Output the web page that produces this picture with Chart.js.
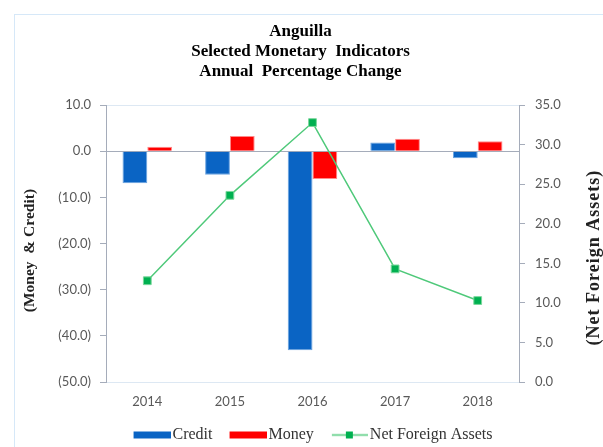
<!DOCTYPE html>
<html>
<head>
<meta charset="utf-8">
<title>Anguilla - Selected Monetary Indicators</title>
<script src="https://cdn.jsdelivr.net/npm/chart.js@4.4.1/dist/chart.umd.min.js"></script>
<style>
  body { margin: 0; background: #fff; }
  #wrap { position: relative; width: 603px; height: 447px; overflow: hidden; }
  #frame {
    position: absolute; left: 14px; top: 14px; right: -10px; bottom: -10px;
    border-top: 1px solid #d6e8f8; border-left: 1px solid #d6e8f8;
  }
  canvas { position: absolute; left: 0; top: 0; }
</style>
</head>
<body>
<div id="wrap">
  <div id="frame"></div>
  <canvas id="monetaryChart" width="603" height="447"></canvas>
</div>
<script>
const years = ["2014", "2015", "2016", "2017", "2018"];
const credit = [-6.9, -5.1, -43.1, 1.9, -1.5];
const money = [1.0, 3.3, -6.0, 2.7, 2.2];
const netForeignAssets = [12.8, 23.6, 32.8, 14.3, 10.3];
const leftTicks = [10, 0, -10, -20, -30, -40, -50];
const rightTicks = [35, 30, 25, 20, 15, 10, 5, 0];

const titleLines = ["Anguilla", "Selected Monetary  Indicators", "Annual  Percentage Change"];
const leftTitle = "(Money  & Credit)";
const rightTitle = "(Net Foreign Assets)";

const BLUE = "#0a64c4";
const RED = "#ff0000";
const GREEN = "#00b050";
const GREEN_LINE = "#4fc97a";
const AXIS = "#a5acba";
const FAINT = "#dde8f3";

// legend swatches: transparent on the left, the visible key in the last 37px
const swatch = (draw) => {
  const c = document.createElement("canvas");
  c.width = 44;
  c.height = 9;
  draw(c.getContext("2d"));
  return c;
};
const swatches = [
  swatch((g) => { g.fillStyle = BLUE; g.fillRect(7, 1, 37, 7); }),
  swatch((g) => { g.fillStyle = RED; g.fillRect(7, 1, 37, 7); }),
  swatch((g) => {
    g.strokeStyle = GREEN_LINE;
    g.lineWidth = 1.5;
    g.beginPath();
    g.moveTo(8, 4.5);
    g.lineTo(44, 4.5);
    g.stroke();
    g.fillStyle = GREEN;
    g.fillRect(22, 1, 7, 7);
  }),
];

// rotated axis titles, both reading bottom to top
const axisTitles = {
  id: "axisTitles",
  afterDraw(chart) {
    const { ctx, chartArea } = chart;
    const mid = (chartArea.top + chartArea.bottom) / 2;
    ctx.save();
    ctx.fillStyle = "#222";
    ctx.textAlign = "center";
    ctx.textBaseline = "middle";
    ctx.font = "bold 15.5px 'Liberation Serif'";
    ctx.translate(chart.scales.y.left + 16, mid + 7);
    ctx.rotate(-Math.PI / 2);
    ctx.fillText(leftTitle, 0, 0);
    ctx.restore();

    ctx.save();
    ctx.fillStyle = "#222";
    ctx.textAlign = "center";
    ctx.textBaseline = "middle";
    ctx.font = "bold 18px 'Liberation Serif'";
    ctx.letterSpacing = "1px";
    ctx.translate(chart.width - 9, mid + 14);
    ctx.rotate(-Math.PI / 2);
    ctx.fillText(rightTitle, 0, 0);
    ctx.restore();
  },
};

const fmt = (v) => (v < 0 ? `(${Math.abs(v).toFixed(1)})` : v.toFixed(1));
const tickFont = { family: "Lato", size: 13 };

const ctx = document.getElementById("monetaryChart").getContext("2d");
window.monetaryChart = new Chart(ctx, {
  type: "bar",
  data: {
    labels: years,
    datasets: [
      {
        label: "Credit",
        data: credit,
        backgroundColor: BLUE,
        borderColor: "#6aa3e0",
        borderWidth: 1,
        yAxisID: "y",
        order: 1,
        categoryPercentage: 0.6,
        barPercentage: 1,
      },
      {
        label: "Money",
        data: money,
        backgroundColor: RED,
        borderColor: "#ff8a8a",
        borderWidth: 1,
        yAxisID: "y",
        order: 1,
        categoryPercentage: 0.6,
        barPercentage: 1,
      },
      {
        type: "line",
        label: "Net Foreign Assets",
        data: netForeignAssets,
        borderColor: GREEN_LINE,
        borderWidth: 1.5,
        pointStyle: "rect",
        pointRadius: 5.5,
        pointBackgroundColor: GREEN,
        pointBorderColor: "#7ad89c",
        pointBorderWidth: 1,
        yAxisID: "y1",
        order: 0,
      },
    ],
  },
  options: {
    responsive: false,
    animation: false,
    layout: { padding: { left: 14, top: 14, right: 16, bottom: 0 } },
    plugins: {
      tooltip: { enabled: false },
      title: {
        display: true,
        text: titleLines,
        color: "#000",
        font: { family: "Liberation Serif", size: 17, weight: "bold", lineHeight: 1.16 },
        padding: { top: 8, bottom: 24 },
      },
      legend: {
        position: "bottom",
        fullSize: false,
        maxHeight: 36,
        labels: {
          usePointStyle: true,
          pointStyleWidth: 32,
          padding: 16,
          color: "#333",
          font: { family: "Liberation Serif", size: 16 },
          sort: (a, b) => a.datasetIndex - b.datasetIndex,
          generateLabels: (chart) => {
            const items = Chart.defaults.plugins.legend.labels.generateLabels(chart);
            items.forEach((item) => {
              item.pointStyle = swatches[item.datasetIndex];
            });
            return items;
          },
        },
      },
    },
    scales: {
      x: {
        grid: { display: false, drawTicks: false },
        border: { display: false },
        ticks: { color: "#595959", font: tickFont, padding: 12 },
        afterFit: (scale) => { scale.height = 29; },
      },
      y: {
        position: "left",
        min: Math.min(...leftTicks),
        max: Math.max(...leftTicks),
        ticks: {
          stepSize: 10,
          color: "#595959",
          font: tickFont,
          padding: 9,
          callback: (v) => fmt(v),
        },
        grid: {
          color: (c) => {
            const v = c.tick ? c.tick.value : null;
            if (v === 0) return AXIS;
            if (v === leftTicks[0] || v === leftTicks[leftTicks.length - 1]) return FAINT;
            return "rgba(0,0,0,0)";
          },
          tickColor: AXIS,
          tickLength: 6,
        },
        border: { color: AXIS },
        afterFit: (scale) => { scale.width = 92; },
      },
      y1: {
        position: "right",
        min: Math.min(...rightTicks),
        max: Math.max(...rightTicks),
        ticks: {
          stepSize: 5,
          color: "#595959",
          font: tickFont,
          padding: 10,
          callback: (v) => v.toFixed(1),
        },
        grid: { drawOnChartArea: false, tickColor: AXIS, tickLength: 6 },
        border: { color: AXIS },
        afterFit: (scale) => { scale.width = 68; },
      },
    },
  },
  plugins: [axisTitles],
});
</script>
</body>
</html>
